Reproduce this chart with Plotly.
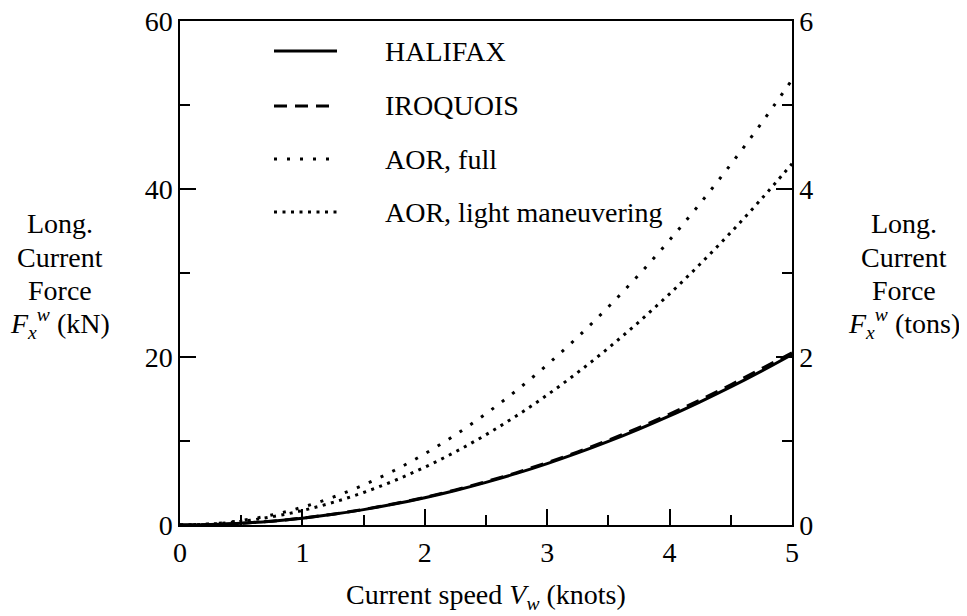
import plotly.graph_objects as go

# Data
speed_knots = [0, 0.25, 0.5, 0.75, 1, 1.25, 1.5, 1.75, 2, 2.25, 2.5, 2.75, 3,
               3.25, 3.5, 3.75, 4, 4.25, 4.5, 4.75, 5]
halifax_kN = [0, 0.05, 0.2, 0.46, 0.81, 1.27, 1.83, 2.49, 3.25, 4.11, 5.08, 6.14, 7.31,
              8.58, 9.95, 11.42, 12.99, 14.67, 16.44, 18.32, 20.3]
iroquois_kN = [0, 0.05, 0.21, 0.46, 0.83, 1.29, 1.86, 2.53, 3.3, 4.18, 5.16, 6.24, 7.43,
               8.71, 10.1, 11.6, 13.2, 14.9, 16.7, 18.6, 20.5]
aor_full_kN = [0, 0.13, 0.53, 1.19, 2.12, 3.31, 4.77, 6.49, 8.48, 10.73, 13.25, 16.03, 19.08,
               22.39, 25.97, 29.81, 33.92, 38.29, 42.93, 47.83, 53.0]
aor_light_kN = [0, 0.11, 0.43, 0.97, 1.72, 2.69, 3.87, 5.27, 6.88, 8.71, 10.75, 13.01, 15.48,
                18.17, 21.07, 24.19, 27.52, 31.07, 34.83, 38.81, 43.0]

series_names = ["HALIFAX", "IROQUOIS", "AOR, full", "AOR, light maneuvering"]
series_values = [halifax_kN, iroquois_kN, aor_full_kN, aor_light_kN]
series_dash = ["solid", "13px,8px", "3px,10px", "3px,5.5px"]
series_width = [3, 3, 3, 3]

x_ticks = [0, 1, 2, 3, 4, 5]
left_ticks = [0, 20, 40, 60]
right_ticks = [0, 2, 4, 6]

FONT = "Liberation Serif, Times New Roman, serif"
FS = 28

# page offset (browser body margin) compensation
OFF = 8
W, H = 967 - OFF, 616 - OFF
PL, PR, PT, PB = 180, 792, 21, 525  # plot box in window pixels
PW, PH = PR - PL, PB - PT


def px_x(x):
    return (x - PL) / PW


def px_y(y):
    return (PB - y) / PH


fig = go.Figure()
for name, vals, dash, w in zip(series_names, series_values, series_dash, series_width):
    fig.add_trace(go.Scatter(x=speed_knots, y=vals, mode="lines", name=name,
                             line=dict(color="black", width=w, dash=dash, shape="spline"),
                             showlegend=False))
# invisible trace to activate right axis
fig.add_trace(go.Scatter(x=[0, 5], y=[0, 6], yaxis="y2", mode="lines",
                         line=dict(width=0), opacity=0, showlegend=False, hoverinfo="skip"))

# manual legend
leg_y = [51, 106, 159, 212]
for name, dash, yy in zip(series_names, series_dash, leg_y):
    fig.add_shape(type="line", xref="paper", yref="paper", x0=px_x(274), x1=px_x(337),
                  y0=px_y(yy), y1=px_y(yy), line=dict(color="black", width=3, dash=dash))
    fig.add_annotation(xref="paper", yref="paper", x=px_x(383), y=px_y(yy), text=name,
                       showarrow=False, xanchor="left", yanchor="middle",
                       font=dict(family=FONT, size=FS, color="black"))

# y titles
left_lines = ["Long.", "Current", "Force", "<i>F</i><sub><i>x</i></sub><sup><i>w</i></sup> (kN)"]
right_lines = ["Long.", "Current", "Force", "<i>F</i><sub><i>x</i></sub><sup><i>w</i></sup> (tons)"]
line_px = [223, 257, 290, 323]
for i in range(4):
    fig.add_annotation(xref="paper", yref="paper", x=px_x(60), y=px_y(line_px[i]),
                       text=left_lines[i], showarrow=False, xanchor="center", yanchor="middle",
                       font=dict(family=FONT, size=FS, color="black"))
    fig.add_annotation(xref="paper", yref="paper", x=px_x(904), y=px_y(line_px[i]),
                       text=right_lines[i], showarrow=False, xanchor="center", yanchor="middle",
                       font=dict(family=FONT, size=FS, color="black"))

fig.add_annotation(xref="paper", yref="paper", x=px_x(486), y=px_y(596),
                   text="Current speed <i>V</i><sub><i>w</i></sub> (knots)", showarrow=False,
                   xanchor="center", yanchor="middle", font=dict(family=FONT, size=FS, color="black"))

fig.update_layout(
    width=W, height=H,
    margin=dict(l=PL - OFF, r=W + OFF - PR, t=PT - OFF, b=H + OFF - PB, autoexpand=False),
    paper_bgcolor="white", plot_bgcolor="white",
    font=dict(family=FONT, size=FS, color="black"),
    xaxis=dict(range=[0, 5], tickvals=x_ticks, ticks="inside", ticklen=16, tickwidth=1.5,
               tickcolor="black", showline=True, linecolor="black", linewidth=1.5, mirror=True,
               showgrid=False, zeroline=False, ticklabelstandoff=2, ticklabeloverflow="allow",
               minor=dict(dtick=0.5, ticks="inside", ticklen=10, tickwidth=1.5, tickcolor="black", showgrid=False)),
    yaxis=dict(range=[0, 60], tickvals=left_ticks, ticks="inside", ticklen=16, tickwidth=1.5,
               tickcolor="black", showline=True, linecolor="black", linewidth=1.5,
               showgrid=False, zeroline=False, ticklabeloverflow="allow",
               minor=dict(dtick=10, ticks="inside", ticklen=10, tickwidth=1.5, tickcolor="black", showgrid=False)),
    yaxis2=dict(range=[0, 6], tickvals=right_ticks, ticks="inside", ticklen=16, tickwidth=1.5,
                tickcolor="black", showline=True, linecolor="black", linewidth=1.5,
                overlaying="y", side="right", showgrid=False, zeroline=False, ticklabeloverflow="allow",
                minor=dict(dtick=1, ticks="inside", ticklen=10, tickwidth=1.5, tickcolor="black", showgrid=False)),
)

fig.write_html("out.html")
